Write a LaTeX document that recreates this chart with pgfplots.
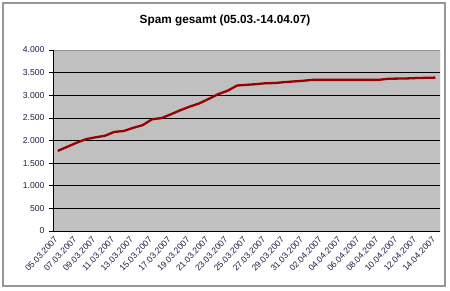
\documentclass[border=0pt]{standalone}
\usepackage{fontspec}
\setmainfont{Liberation Sans}
\usepackage{pgfplots}
\pgfplotsset{compat=1.18}
\definecolor{plotbg}{RGB}{192,192,192}
\definecolor{linered}{RGB}{153,0,0}
\definecolor{txt}{RGB}{30,30,70}
\definecolor{framegray}{RGB}{150,150,150}
\begin{document}
\begin{tikzpicture}
\fill[white] (0pt,0pt) rectangle (450pt,290pt);
\draw[framegray, line width=1.5pt] (3pt,4pt) rectangle (445pt,287pt);
\node[font=\fontsize{11.8}{13}\selectfont\bfseries, text=black] at (225pt,270pt) {Spam gesamt (05.03.-14.04.07)};
\begin{axis}[
  at={(53pt,59pt)}, anchor=south west,
  scale only axis, width=387pt, height=181pt,
  xmin=-0.5, xmax=40.5, ymin=0, ymax=4000,
  axis background/.style={fill=plotbg},
  axis line style={draw=none},
  ytick={0,500,...,4000},
  ymajorgrids, grid style={black, line width=0.6pt},
  xtick={0,2,...,40},
  xticklabels={05.03.2007,07.03.2007,09.03.2007,11.03.2007,13.03.2007,15.03.2007,17.03.2007,19.03.2007,21.03.2007,23.03.2007,25.03.2007,27.03.2007,29.03.2007,31.03.2007,02.04.2007,04.04.2007,06.04.2007,08.04.2007,10.04.2007,12.04.2007,14.04.2007},
  x tick style={draw=none},
  extra x ticks={-0.5,1.5,...,39.5},
  extra x tick labels={},
  extra x tick style={major tick length=4pt, tick style={black, line width=0.6pt}, tick align=outside},
  y tick style={black, line width=0.6pt},
  major tick length=4pt, tick align=outside,
  ytick pos=left, xtick pos=bottom,
  tick label style={font=\fontsize{8.6}{10}\selectfont, text=txt},
  xticklabel style={rotate=47, anchor=east, xshift=0pt, yshift=-1pt},
  yticklabel style={xshift=-1pt},
  /pgf/number format/.cd, 1000 sep={.}, assume math mode=true,
]
\draw[framegray, line width=0.8pt] (axis cs:-0.5,4000) -- (axis cs:40.5,4000) -- (axis cs:40.5,0);
\draw[black, line width=0.8pt] (axis cs:-0.5,4000) -- (axis cs:-0.5,0) -- (axis cs:40.5,0);
\addplot[linered, line width=2.3pt, mark=none] coordinates {
(0,1770) (1,1860) (2,1950) (3,2030) (4,2070) (5,2105) (6,2190) (7,2210) (8,2280) (9,2340)
(10,2470) (11,2495) (12,2580) (13,2670) (14,2750) (15,2820) (16,2920) (17,3025) (18,3100) (19,3215)
(20,3230) (21,3245) (22,3265) (23,3270) (24,3290) (25,3305) (26,3320) (27,3340) (28,3340) (29,3340)
(30,3340) (31,3340) (32,3340) (33,3340) (34,3340) (35,3365) (36,3368) (37,3372) (38,3380) (39,3385) (40,3390)
};
\end{axis}
\pgfresetboundingbox
\useasboundingbox (0pt,0pt) rectangle (450pt,290pt);
\end{tikzpicture}
\end{document}
